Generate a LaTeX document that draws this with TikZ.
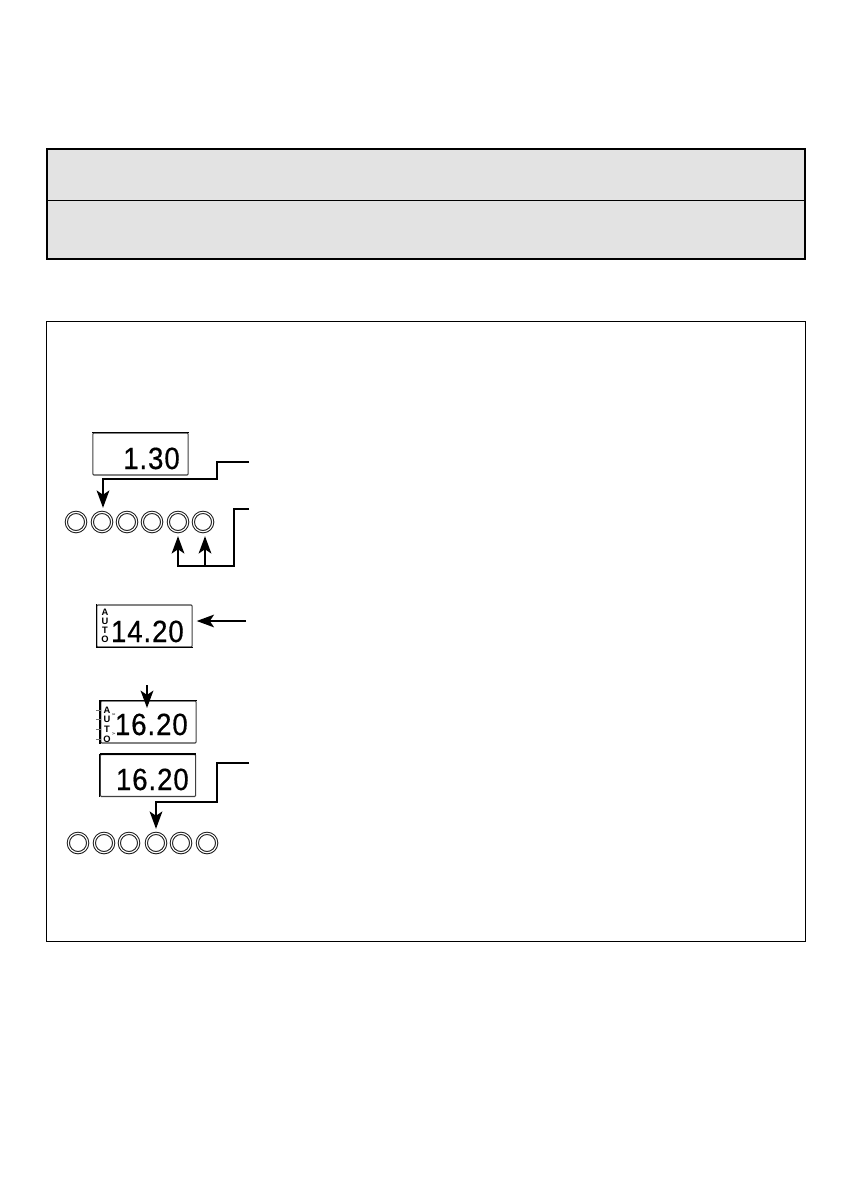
\documentclass[tikz,border=0pt]{standalone}
\usepackage{fontspec}
\setmainfont{Liberation Sans}
\usetikzlibrary{arrows.meta}
\newfontfamily\lcdfont[FakeStretch=0.9,LetterSpace=3,FakeBold=0.5]{Liberation Sans}
\tikzset{
  lcd/.style={draw=black!75,line width=0.8pt,rounded corners=0.8pt,fill=white,minimum width=71.5pt,minimum height=31.5pt,inner sep=0pt},
  digits/.style={inner sep=0pt,font=\lcdfont\fontsize{23}{23}\selectfont,anchor=base east},
  autoletter/.style={inner sep=0pt,font=\bfseries\fontsize{7}{7}\selectfont},
  btn/.style={circle,draw=black!90,line width=0.75pt,double=white,double distance=0.9pt,minimum size=14.5pt,inner sep=0pt,fill=white},
  conn/.style={draw=black,line width=1.6pt,line cap=butt,line join=miter},
  arr/.style={conn,shorten >=3pt,-{Stealth[length=13pt,width=9.5pt,inset=3.2pt]}},
  ray/.style={draw=black!55,line width=0.35pt},
}
\begin{document}
\begin{tikzpicture}[x=0.75pt,y=-0.75pt]
\useasboundingbox (0,0) rectangle (841,1191);
% header box
\filldraw[fill=black!11,draw=black,line width=1.7pt] (47,149) rectangle (805,259);
\draw[black,line width=0.7pt] (47,200) -- (805,200);
% main frame
\draw[black,line width=0.75pt] (46.5,321.5) rectangle (805.5,941);
% displays
\node[lcd] (d1) at (140.5,454) {};
\node[lcd] (d2) at (144.5,626) {};
\node[lcd] (d3) at (148.5,722) {};
\node[lcd] (d4) at (148,775.5) {};
\draw[black,line width=1.2pt] (d2.north west) -- (d2.south west) -- (d2.south east);
\draw[black,line width=1.6pt] (d3.north west) -- (d3.south west);
\draw[black,line width=1pt] (d3.north west) -- (d3.north east);
\draw[black,line width=1pt] (d1.north west) -- (d1.north east);
\draw[black,line width=1pt] (d4.north west) -- (d4.north east);
\draw[black,line width=1pt] (d4.north west) -- (d4.south west);
\node[digits] (t1) at (180,469) {1.30};
\node[digits] (t2) at (184,642) {14.20};
\node[digits] (t3) at (188,735) {16.20};
\node[digits] (t4) at (189,790) {16.20};
% AUTO 1
\node[autoletter] (a1) at (105,612) {A};
\node[autoletter] (a2) at (105,621) {U};
\node[autoletter] (a3) at (105,630) {T};
\node[autoletter] (a4) at (105,639.5) {O};
% AUTO 2 flashing
\node[autoletter] (b1) at (107,710) {A};
\node[autoletter] (b2) at (107,719.5) {U};
\node[autoletter] (b3) at (107,729) {T};
\node[autoletter] (b4) at (107,739) {O};
\foreach \n in {b1,b2,b3,b4}{
  \draw[ray] ([xshift=-4.5pt]\n.center) -- ([xshift=-8pt]\n.center);
}
\foreach \n in {b1,b3}{
  \draw[ray] ([xshift=4pt,yshift=-2.5pt]\n.center) -- ([xshift=6pt,yshift=-3.5pt]\n.center);
}
\foreach \n in {b2,b4}{
  \draw[ray] ([xshift=4pt,yshift=3.5pt]\n.center) -- ([xshift=6pt,yshift=4.5pt]\n.center);
}
% button rows
\foreach \i/\x in {1/76,2/102,3/127,4/152,5/178,6/203}{
  \node[btn] (p\i) at (\x,522) {};
}
\foreach \i/\x in {1/78,2/104,3/129,4/156,5/181,6/207}{
  \node[btn] (q\i) at (\x,843) {};
}
% free ends
\coordinate (c1) at (249,462);
\coordinate (c2) at (249,509);
\coordinate (c3) at (246,621);
\coordinate (c4) at (147,685);
\coordinate (c5) at (249,763);
% connectors
\draw[arr] (c1) -- (217,462) -- (217,479) -- (103,479) -- ([xshift=0.75pt]p2.north);
\draw[arr] (c2) -- (234,509) -- (234,566) -- (178,566) -- (p5.south);
\draw[arr] (205,566) -- ([xshift=1.5pt]p6.south);
\draw[arr] (c3) -- (d2.east |- c3);
\draw[arr,shorten >=0pt] (c4) -- (147,708);
\draw[arr] (c5) -- (217,763) -- (217,802) -- (156,802) -- (q4.north);
\end{tikzpicture}
\end{document}
